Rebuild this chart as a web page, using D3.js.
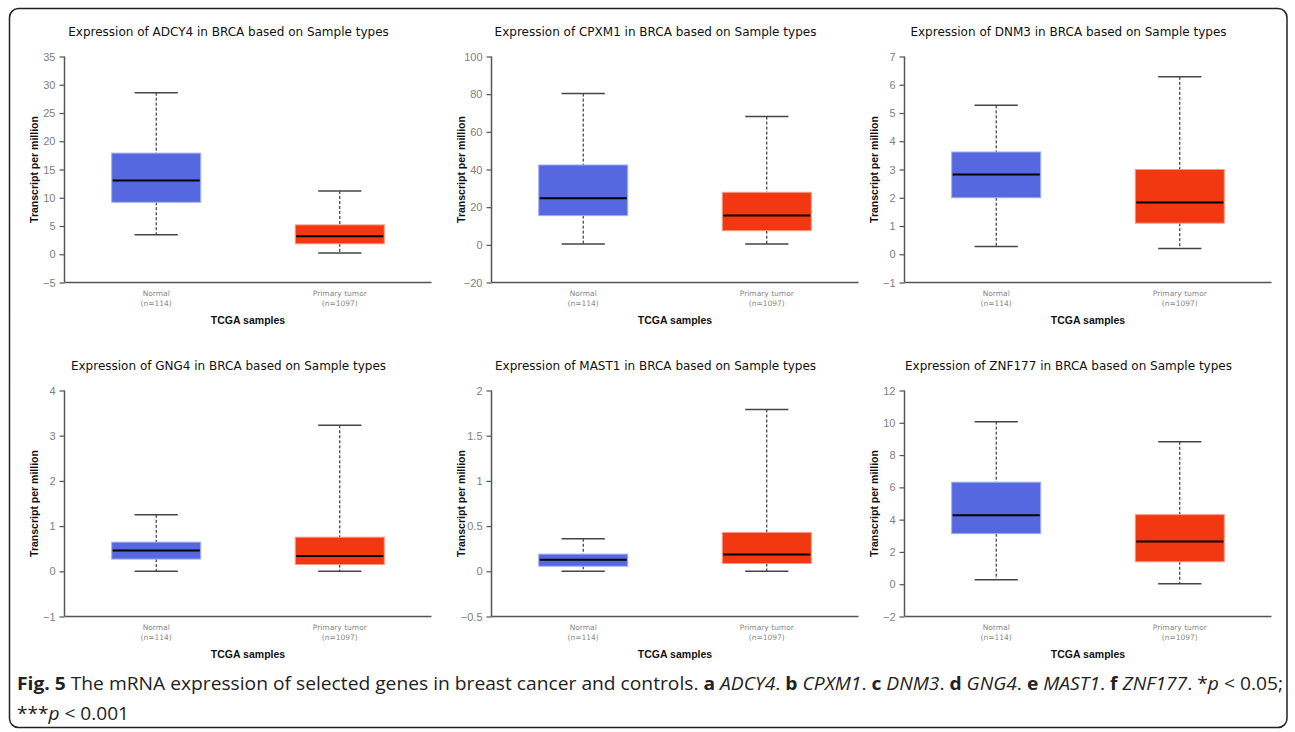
<!DOCTYPE html>
<html><head><meta charset="utf-8">
<script src="https://cdn.jsdelivr.net/npm/d3@7"></script>
<style>body{margin:0;background:#fff}svg{display:block}</style>
</head><body>
<svg id="c" width="1295" height="732"></svg>
<script>
// ---- data ----
const genes = ["ADCY4", "CPXM1", "DNM3", "GNG4", "MAST1", "ZNF177"];
const groups = ["Normal", "Primary tumor"];
const groupN = ["(n=114)", "(n=1097)"];
// [min, q1, median, q3, max]
const normalStats = [
  [3.44, 9.2, 13.05, 17.9, 28.6],
  [0.4, 15.5, 24.7, 42.4, 80.3],
  [0.27, 2.0, 2.82, 3.62, 5.27],
  [0.0, 0.27, 0.46, 0.645, 1.25],
  [0.0, 0.056, 0.127, 0.19, 0.36],
  [0.28, 3.13, 4.27, 6.32, 10.07]
];
const tumorStats = [
  [0.2, 1.85, 3.2, 5.2, 11.2],
  [0.4, 7.5, 15.6, 27.9, 68.1],
  [0.2, 1.1, 1.83, 3.0, 6.28],
  [0.0, 0.15, 0.34, 0.755, 3.23],
  [0.0, 0.086, 0.186, 0.43, 1.79],
  [0.03, 1.39, 2.65, 4.31, 8.82]
];
const yDomains = [[-5, 35], [-20, 100], [-1, 7], [-1, 4], [-0.5, 2], [-2, 12]];
const yTicks = [
  [-5, 0, 5, 10, 15, 20, 25, 30, 35],
  [-20, 0, 20, 40, 60, 80, 100],
  [-1, 0, 1, 2, 3, 4, 5, 6, 7],
  [-1, 0, 1, 2, 3, 4],
  [-0.5, 0, 0.5, 1, 1.5, 2],
  [-2, 0, 2, 4, 6, 8, 10, 12]
];
const boxColors = ["#5568e0", "#f23811"];
const boxStrokes = ["#a3aef2", "#f79a86"];

// ---- layout ----
const svg = d3.select("#c");
svg.append("rect").attr("x", 9.5).attr("y", 8.5).attr("width", 1277.5).attr("height", 719)
  .attr("rx", 9).attr("fill", "none").attr("stroke", "#222").attr("stroke-width", 1.5);

const colLeft = [64.5, 491.5, 904.5];
const rowTop = [56.5, 390.5];
const pw = 367, ph = 226;

genes.forEach((g, i) => {
  const col = i % 3, row = Math.floor(i / 3);
  const gx = colLeft[col], gy = rowTop[row];
  const G = svg.append("g").attr("transform", `translate(${gx},${gy})`);
  const y = d3.scaleLinear().domain(yDomains[i]).range([ph, 0]);
  const x = d3.scaleBand().domain(groups).range([0, pw]).paddingInner(0.515).paddingOuter(0.257);

  // title
  G.append("text").attr("x", 164).attr("y", -21).attr("text-anchor", "middle")
    .attr("font-family", "DejaVu Sans").attr("font-size", 12).attr("fill", "#111")
    .text(`Expression of ${g} in BRCA based on Sample types`);

  // y axis
  const ya = G.append("g").call(d3.axisLeft(y).tickValues(yTicks[i]).tickSize(5).tickPadding(4).tickFormat(d3.format("")));
  ya.select(".domain").attr("stroke", "#555").attr("stroke-width", 1.5).attr("d", `M0,${ph}V0`);
  ya.selectAll(".tick line").attr("stroke", "#555").attr("stroke-width", 1.2);
  ya.selectAll(".tick text").attr("fill", "#808080").attr("font-family", "Liberation Sans").attr("font-size", 11);
  // x axis line
  G.append("line").attr("x1", 0).attr("x2", pw).attr("y1", ph).attr("y2", ph)
    .attr("stroke", "#555").attr("stroke-width", 1.5);

  // y label
  G.append("text").attr("transform", `translate(-31,${ph / 2}) rotate(-90)`)
    .attr("text-anchor", "middle").attr("dominant-baseline", "central")
    .attr("font-family", "Liberation Sans").attr("font-weight", "bold").attr("font-size", 10.5)
    .attr("fill", "#111").text("Transcript per million");

  // x tick labels
  groups.forEach((grp, j) => {
    const cx = x(grp) + x.bandwidth() / 2;
    G.append("text").attr("x", cx).attr("y", ph + 13).attr("text-anchor", "middle")
      .attr("font-family", "DejaVu Sans").attr("font-size", 7.5).attr("fill", "#888").text(grp);
    G.append("text").attr("x", cx).attr("y", ph + 23).attr("text-anchor", "middle")
      .attr("font-family", "DejaVu Sans").attr("font-size", 7.5).attr("fill", "#888").text(groupN[j]);
  });
  G.append("text").attr("x", pw / 2).attr("y", ph + 41).attr("text-anchor", "middle")
    .attr("font-family", "Liberation Sans").attr("font-weight", "bold").attr("font-size", 10.5)
    .attr("fill", "#111").text("TCGA samples");

  // boxes
  const stats = [normalStats[i], tumorStats[i]];
  stats.forEach((s, j) => {
    const bx = x(groups[j]), bw = x.bandwidth(), cx = bx + bw / 2;
    const capW = bw * 0.485;
    // whiskers
    G.append("line").attr("x1", cx).attr("x2", cx).attr("y1", y(s[4])).attr("y2", y(s[3]))
      .attr("stroke", "#111").attr("stroke-width", 1).attr("stroke-dasharray", "3,2");
    G.append("line").attr("x1", cx).attr("x2", cx).attr("y1", y(s[1])).attr("y2", y(s[0]))
      .attr("stroke", "#111").attr("stroke-width", 1).attr("stroke-dasharray", "3,2");
    // caps
    [s[0], s[4]].forEach(v => {
      G.append("line").attr("x1", cx - capW / 2).attr("x2", cx + capW / 2).attr("y1", y(v)).attr("y2", y(v))
        .attr("stroke", "#444").attr("stroke-width", 1.5);
    });
    // box
    G.append("rect").attr("x", bx).attr("width", bw).attr("y", y(s[3])).attr("height", y(s[1]) - y(s[3]))
      .attr("fill", boxColors[j]).attr("stroke", boxStrokes[j]).attr("stroke-width", 1);
    // median
    G.append("line").attr("x1", bx + 1).attr("x2", bx + bw - 1).attr("y1", y(s[2])).attr("y2", y(s[2]))
      .attr("stroke", "#000").attr("stroke-width", 2);
  });
});

// caption
const cap1 = svg.append("text").attr("x", 17).attr("y", 690)
  .attr("font-family", "Open Sans").attr("font-size", 18).attr("fill", "#222")
  .attr("textLength", 1266).attr("lengthAdjust", "spacingAndGlyphs");
cap1.append("tspan").attr("font-weight", "bold").text("Fig. 5");
cap1.append("tspan").text(" The mRNA expression of selected genes in breast cancer and controls. ");
const parts = [["a", "ADCY4"], ["b", "CPXM1"], ["c", "DNM3"], ["d", "GNG4"], ["e", "MAST1"], ["f", "ZNF177"]];
parts.forEach(([l, gname]) => {
  cap1.append("tspan").attr("font-weight", "bold").text(l + " ");
  cap1.append("tspan").attr("font-style", "italic").text(gname);
  cap1.append("tspan").text(". ");
});
cap1.append("tspan").text("*");
cap1.append("tspan").attr("font-style", "italic").text("p");
cap1.append("tspan").text(" < 0.05;");
const cap2 = svg.append("text").attr("x", 17).attr("y", 720)
  .attr("font-family", "Open Sans").attr("font-size", 18).attr("fill", "#222")
  .attr("textLength", 112).attr("lengthAdjust", "spacingAndGlyphs");
cap2.append("tspan").text("***");
cap2.append("tspan").attr("font-style", "italic").text("p");
cap2.append("tspan").text(" < 0.001");
</script>
</body></html>
